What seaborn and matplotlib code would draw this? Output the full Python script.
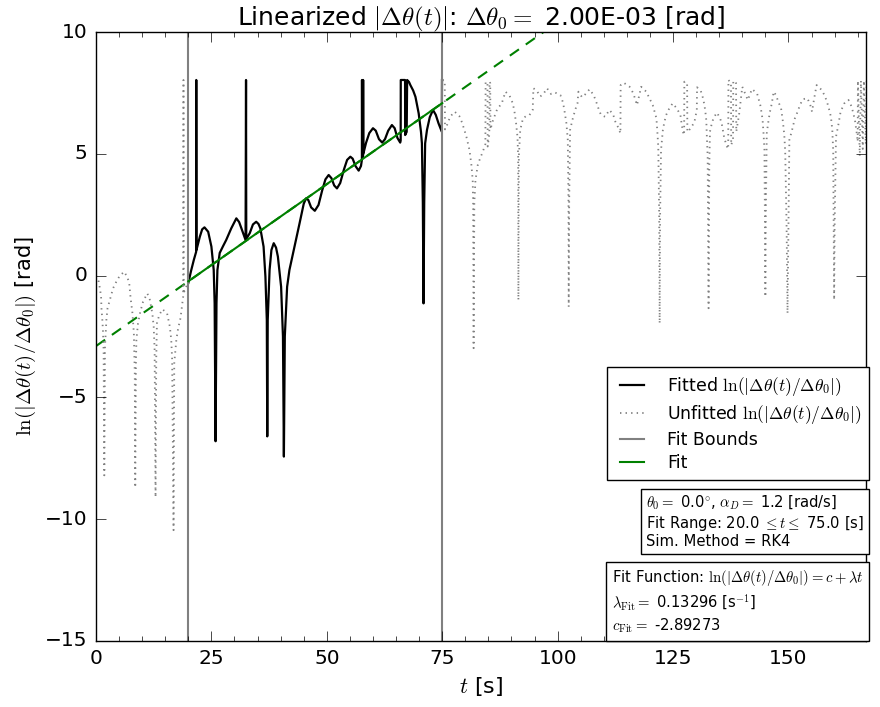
import matplotlib
matplotlib.use("Agg")
import matplotlib.pyplot as plt
import seaborn as sns
import numpy as np
import pandas as pd
from matplotlib.lines import Line2D
from matplotlib.offsetbox import AnchoredText

plt.style.use("classic")
plt.rcParams["lines.scale_dashes"] = False
plt.rcParams["mathtext.fontset"] = "cm"
plt.rcParams["font.family"] = ["DejaVu Sans"]

# ---------------- data ----------------
t_pre = [0.0, 0.6, 0.9, 1.1, 1.2, 1.35, 1.5, 1.65, 1.8, 1.95, 2.25, 2.5, 3.0, 3.7, 4.4, 5.1, 6.1,
         6.8, 7.2, 7.5, 7.9, 8.2, 8.4, 8.5, 8.65, 8.75, 9.1, 9.6, 10.2, 11.1, 11.6, 12.2, 12.5,
         12.7, 12.9, 13.05, 13.2, 13.7, 14.4, 15.4, 16.0, 16.3, 16.5, 16.8, 16.95, 17.4, 17.8,
         18.3, 18.7, 18.9, 18.95, 19.0, 19.2, 19.7, 20.0]
y_pre = [0.0, -0.25, -0.59, -0.87, -1.41, -1.75, -2.23, -3.05, -8.2, -2.9, -1.82, -1.34, -1.0,
         -0.52, -0.25, -0.02, 0.16, -0.07, -0.32, -0.93, -1.55, -2.37, -4.0, -8.7, -3.6, -2.64,
         -1.96, -1.48, -1.07, -0.73, -0.93, -1.55, -2.1, -3.06, -9.1, -3.4, -1.96, -1.62, -1.38,
         -1.55, -2.1, -2.64, -3.46, -10.45, -3.6, -2.64, -2.16, -1.75, -1.14, -0.85, 8.03, -0.75,
         -0.59, -0.39, -0.3]

t_fit = [20.0, 20.6, 21.2, 21.7, 21.72, 21.76, 22.5, 23.0, 23.5, 24.3, 25.0, 25.5, 25.7, 25.9,
         26.1, 26.3, 26.8, 27.5, 28.2, 29.3, 30.4, 31.0, 31.5, 32.4, 32.5, 32.55, 33.3, 34.0,
         34.7, 35.2, 35.6, 36.3, 36.7, 37.0, 37.1, 37.2, 37.6, 38.0, 38.5, 39.0, 39.4, 40.1,
         40.5, 40.7, 40.9, 41.4, 41.9, 43.0, 44.1, 45.0, 45.5, 46.0, 46.6, 47.4, 48.2, 49.0,
         49.7, 50.4, 51.0, 51.6, 52.2, 52.9, 53.7, 54.4, 55.1, 55.6, 56.2, 56.9, 57.4, 57.6,
         57.62, 57.66, 57.85, 57.87, 57.91, 58.5, 59.2, 60.0, 60.6, 61.3, 62.0, 62.6, 63.3,
         64.1, 64.7, 65.3, 65.9, 66.0, 66.02, 66.95, 66.97, 67.3, 67.4, 67.8, 68.1, 68.7, 69.2,
         69.9, 70.4, 70.6, 70.8, 70.95, 71.1, 71.3, 71.7, 72.3, 73.0, 73.6, 74.2, 74.9, 74.95]
y_fit = [-0.3, 0.2, 0.65, 0.98, 8.03, 1.05, 1.6, 1.9, 1.98, 1.8, 1.19, 0.23, -1.13, -6.8,
         -1.13, 0.23, 0.93, 1.2, 1.46, 1.94, 2.35, 2.2, 1.94, 1.46, 8.03, 1.5, 1.74, 2.1,
         2.21, 2.12, 1.94, 1.19, -0.04, -1.82, -6.6, -1.82, 0.23, 1.05, 1.33, 1.15, 0.78, -0.46,
         -2.5, -7.43, -2.5, -0.46, 0.23, 1.19, 2.15, 2.95, 3.17, 3.1, 2.8, 2.66, 2.9, 3.5,
         3.95, 4.13, 4.0, 3.7, 3.58, 3.8, 4.35, 4.75, 4.88, 4.8, 4.5, 4.31, 4.5, 4.75,
         8.03, 4.8, 4.9, 8.03, 5.0, 5.45, 5.85, 6.05, 5.95, 5.6, 5.46, 5.6, 5.95,
         6.18, 6.05, 5.65, 5.46, 5.55, 8.03, 8.03, 5.77, 5.9, 8.03, 7.95, 7.82, 7.6, 7.34,
         6.66, 5.9, 5.43, 3.0, -1.14, 3.0, 5.43, 5.98, 6.5, 6.8, 6.6, 6.25, 5.91, 8.03]

t_post = [75.05, 75.55, 75.6, 76.2, 76.7, 77.7, 78.7, 79.3, 80.2, 80.9, 81.3, 81.6, 81.7, 81.8,
          81.95, 82.2, 82.7, 83.2, 83.8, 84.35, 84.4, 84.8, 84.85, 85.2, 85.25, 85.4, 85.45,
          85.9, 86.9, 87.9, 88.7, 89.6, 90.2, 90.6, 91.0, 91.3, 91.45, 91.5, 91.6, 91.9, 92.5,
          93.2, 93.9, 94.6, 94.75, 95.5, 96.2, 96.9, 97.7, 98.6, 99.5, 100.6, 101.1, 101.4,
          101.9, 102.2, 102.35, 102.4, 102.5, 102.7, 103.2, 103.8, 104.3, 104.5, 105.3, 106.2,
          106.9, 107.8, 108.4, 108.9, 109.4, 110.3, 111.2, 112.0, 112.5, 113.2, 113.6, 113.65,
          114.3, 115.6, 116.4, 117.2, 118.1, 119.2, 119.9, 120.6, 121.0, 121.4, 121.6, 121.8,
          122.0, 122.1, 122.2, 122.4, 122.8, 123.1, 123.5, 124.1, 124.9, 125.8, 126.6, 126.9,
          127.3, 127.4, 127.45, 128.05, 128.1, 128.6, 129.6, 130.15, 130.2, 131.0, 131.5, 131.8,
          132.0, 132.2, 132.3, 132.5, 132.7, 132.85, 133.0, 133.4, 133.8, 134.5, 135.2, 135.6,
          136.1, 136.7, 136.95, 137.0, 137.55, 137.6, 138.0, 138.05, 138.65, 138.7, 139.3,
          140.0, 140.6, 141.2, 142.1, 143.2, 143.9, 144.2, 144.4, 144.6, 144.8, 144.9, 145.0,
          145.1, 145.3, 145.7, 146.0, 146.4, 146.8, 147.3, 147.8, 148.4, 148.8, 149.1, 149.3,
          149.6, 149.8, 150.0, 150.2, 150.7, 151.4, 151.9, 152.5, 153.1, 154.1, 154.7, 155.1,
          155.6, 156.1, 157.2, 157.9, 158.4, 158.8, 159.2, 159.5, 159.7, 159.8, 159.9, 160.0,
          160.3, 160.8, 161.3, 162.1, 163.0, 163.7, 164.4, 164.8, 165.0, 165.05, 165.45,
          165.7, 166.1, 166.35, 166.75, 166.95, 167.3]
y_post = [8.03, 8.0, 6.0, 6.25, 6.52, 6.73, 6.55, 6.28, 5.73, 5.16, 4.58, 3.92, 2.98, -2.98,
          2.98, 3.92, 4.54, 4.81, 5.09, 5.4, 7.96, 7.9, 5.3, 5.8, 7.96, 7.9, 6.0,
          6.32, 6.83, 7.07, 7.55, 7.38, 7.11, 6.8, 6.25, 5.7, 4.88, -1.0, 4.9, 5.98, 6.46,
          6.55, 6.59, 6.8, 7.69, 7.59, 7.35, 7.45, 7.69, 7.45, 7.51, 7.41, 7.14, 6.87,
          6.25, 5.57, 3.0, -1.28, 3.0, 5.98, 6.39, 6.8, 7.07, 7.55, 7.32, 7.48,
          7.65, 7.41, 7.11, 6.83, 6.59, 6.52, 6.8, 6.63, 6.32, 6.05, 5.84, 7.82,
          7.92, 7.75, 7.48, 7.0, 7.75, 7.55, 7.28, 7.0, 6.73, 6.46, 5.91, 5.29,
          2.5, -1.96, 2.5, 5.16, 5.98, 6.28, 6.59, 6.83, 7.07, 6.87, 6.59, 6.18,
          5.77, 5.8, 7.96, 7.9, 5.9, 6.0, 6.28, 6.8, 7.73, 7.59, 7.28, 7.0,
          6.73, 6.39, 5.84, 4.88, -1.34, 4.5, 5.91, 6.25, 6.48, 6.69, 6.46, 6.18,
          5.64, 5.29, 5.2, 8.03, 7.9, 5.36, 5.6, 8.0, 7.9, 5.91, 6.6,
          7.75, 7.48, 7.21, 7.66, 7.48, 7.0, 6.66, 6.39, 5.84, 5.16, 2.5, -0.87,
          2.5, 5.84, 6.39, 6.73, 7.07, 7.55, 7.41, 7.14, 6.87, 6.32, 5.77, 5.09,
          2.0, -1.55, 2.0, 5.57, 5.91, 6.46, 6.69, 7.0, 7.24, 7.28, 7.03, 6.73,
          7.3, 7.82, 7.62, 7.37, 7.1, 6.83, 6.52, 5.98, 5.09, 2.0, -1.0, 2.0,
          5.70, 6.18, 6.73, 7.07, 7.21, 6.93, 6.39, 5.84, 5.5, 8.0, 4.9,
          8.0, 5.2, 8.0, 5.4, 8.0, 6.0]

fit_bounds = [20.0, 75.0]
lam_fit = 0.13296
c_fit = -2.89273
t_end = 166.8

# ---------------- figure ----------------
fig, ax = plt.subplots(figsize=(8.8, 7.07), dpi=100)
fig.subplots_adjust(left=96/880, right=866/880, bottom=1-641/707, top=1-32/707)

grey = (0.5, 0.5, 0.5)
green = (0.0, 0.5, 0.0)
dot_style = (0, (1.0, 3.0))

# fit line (dashed full extent, solid over fit range)
t_line = [0.0, t_end]
sns.lineplot(x=t_line, y=[c_fit + lam_fit * v for v in t_line], ax=ax, color=green,
             lw=1.5, linestyle=(0, (8, 6)), sort=False, estimator=None)

sns.lineplot(x=t_pre, y=y_pre, ax=ax, color=grey, lw=1.3, linestyle=dot_style,
             sort=False, estimator=None)
sns.lineplot(x=t_post, y=y_post, ax=ax, color=grey, lw=1.3, linestyle=dot_style,
             sort=False, estimator=None)
sns.lineplot(x=t_fit, y=y_fit, ax=ax, color="black", lw=1.6, sort=False, estimator=None)

for b in fit_bounds:
    ax.axvline(b, color=grey, lw=1.5)

sns.lineplot(x=fit_bounds, y=[c_fit + lam_fit * v for v in fit_bounds], ax=ax, color=green,
             lw=1.5, sort=False, estimator=None)

ax.set_xlim(0, t_end)
ax.set_ylim(-15, 10)
ax.set_xticks([0, 25, 50, 75, 100, 125, 150])
ax.set_xticks(np.arange(0, 170, 5), minor=True)
ax.set_yticks([-15, -10, -5, 0, 5, 10])
ax.tick_params(axis="both", which="major", labelsize=14.5, length=7, direction="in",
               top=True, right=True, pad=6)
ax.tick_params(axis="both", which="minor", length=3.5, direction="in", top=True, right=True)

ax.set_xlabel(r"$t$ [s]", fontsize=16)
ax.set_ylabel(r"$\ln(|\Delta\theta(t)/\Delta\theta_0|)$ [rad]", fontsize=15)
ax.set_title(r"Linearized $|\Delta\theta(t)|$: $\Delta\theta_0 =$ 2.00E-03 [rad]", fontsize=18)

handles = [
    Line2D([], [], color="black", lw=1.6),
    Line2D([], [], color=grey, lw=1.3, linestyle=dot_style),
    Line2D([], [], color=grey, lw=1.5),
    Line2D([], [], color=green, lw=1.5),
]
labels = [
    r"Fitted $\ln(|\Delta\theta(t)/\Delta\theta_0|)$",
    r"Unfitted $\ln(|\Delta\theta(t)/\Delta\theta_0|)$",
    "Fit Bounds",
    "Fit",
]
leg = ax.legend(handles, labels, loc="upper right", bbox_to_anchor=(869/880, 1-367/707),
                bbox_transform=fig.transFigure, borderaxespad=0, fontsize=12.5,
                handlelength=2.0, handletextpad=1.0, labelspacing=0.3, borderpad=0.45,
                frameon=True, fancybox=False)
leg.get_frame().set_edgecolor("black")

txt1 = (r"$\theta_0 =$ 0.0$^{\circ}$, $\alpha_D =$ 1.2 [rad/s]" "\n"
        r"Fit Range: 20.0 $\leq t \leq$ 75.0 [s]" "\n"
        "Sim. Method = RK4")
at1 = AnchoredText(txt1, loc="upper right", bbox_to_anchor=(869/880, 1-489/707),
                   bbox_transform=fig.transFigure, borderpad=0, pad=0.35,
                   prop=dict(size=10.6, linespacing=1.1), frameon=True)
at1.patch.set_boxstyle("square,pad=0")
ax.add_artist(at1)

txt2 = (r"Fit Function: $\ln(|\Delta\theta(t)/\Delta\theta_0|) = c + \lambda t$" "\n"
        r"$\lambda_{\rm Fit} =$ 0.13296 [s$^{-1}$]" "\n"
        r"$c_{\rm Fit} =$ -2.89273")
at2 = AnchoredText(txt2, loc="upper right", bbox_to_anchor=(869/880, 1-562/707),
                   bbox_transform=fig.transFigure, borderpad=0, pad=0.4,
                   prop=dict(size=10.6, linespacing=1.3), frameon=True)
at2.patch.set_boxstyle("square,pad=0")
ax.add_artist(at2)

fig.savefig("out.png", dpi=100)
